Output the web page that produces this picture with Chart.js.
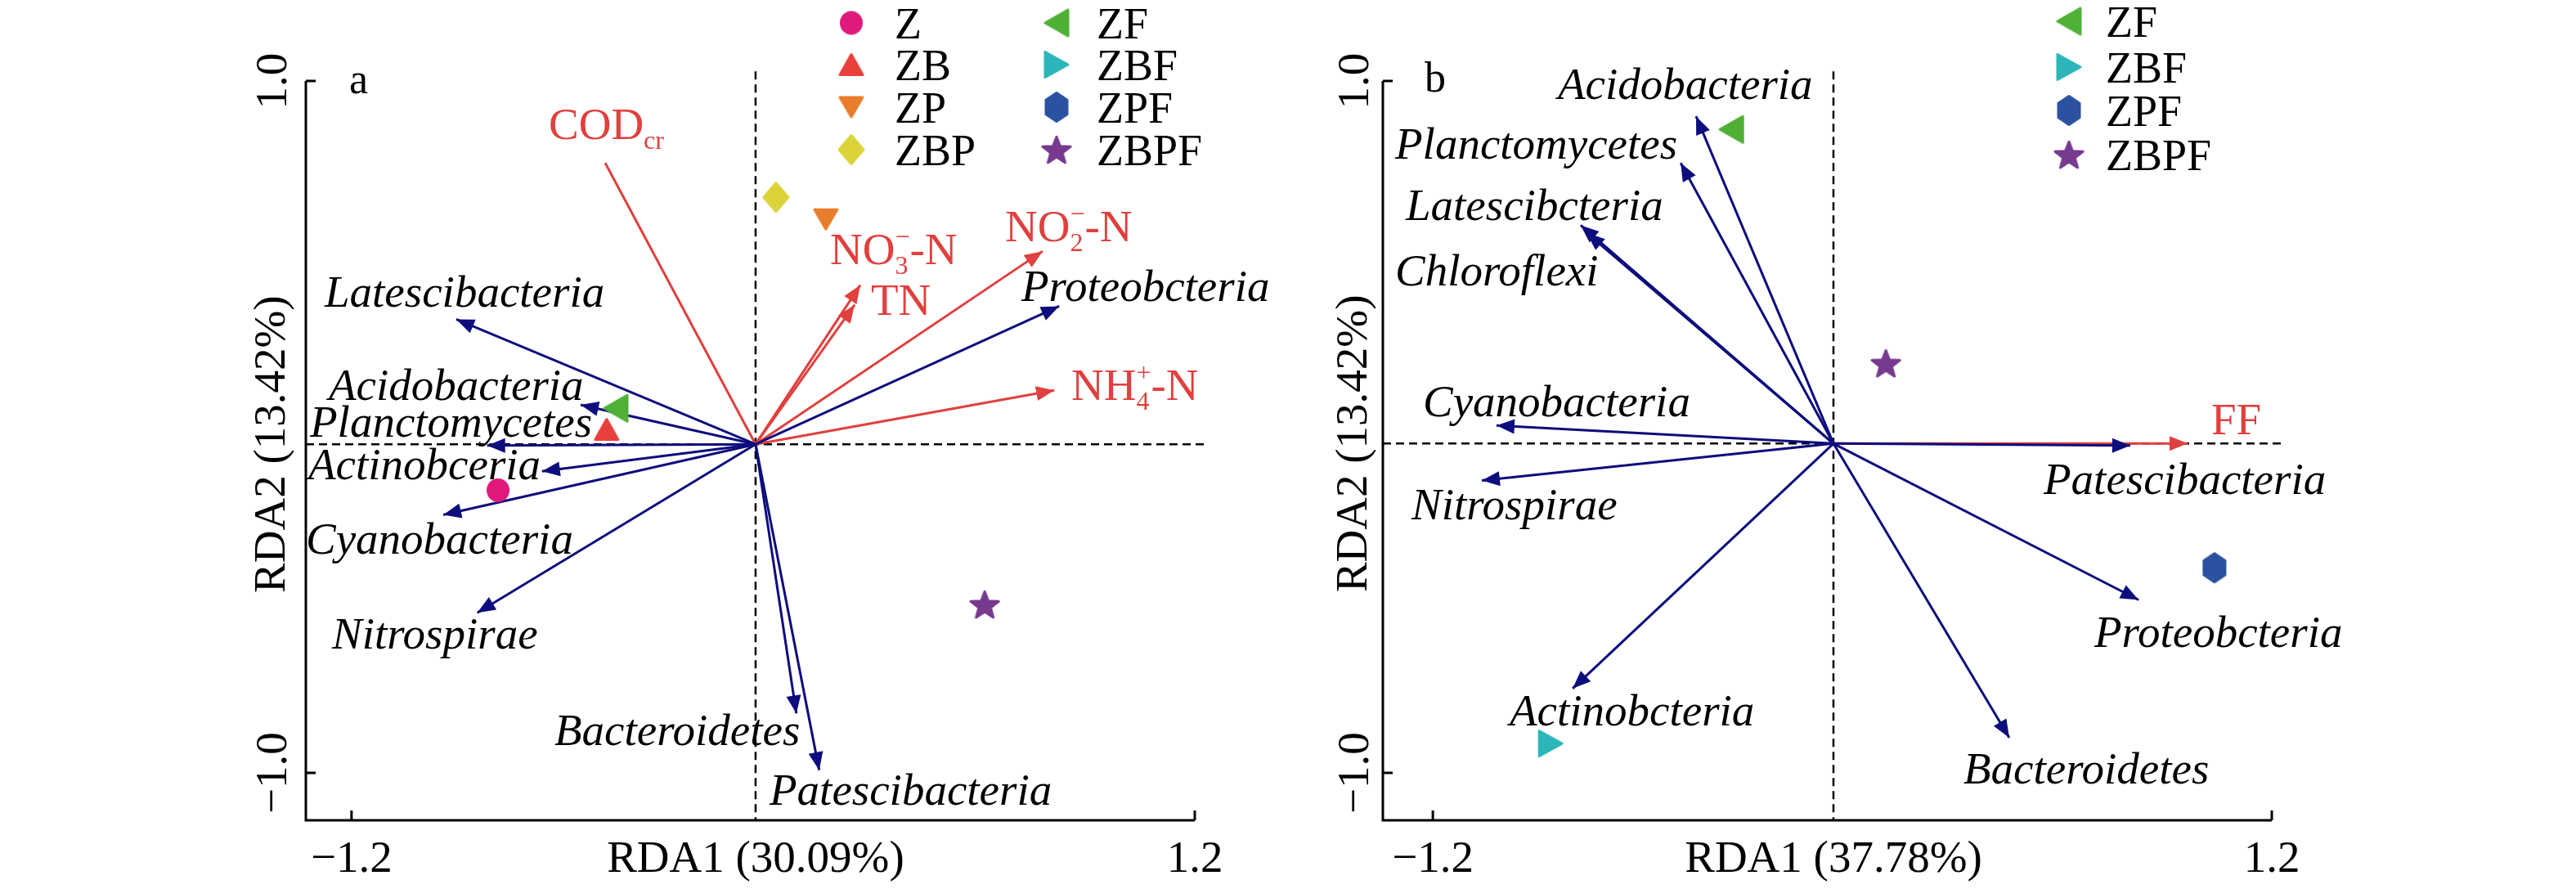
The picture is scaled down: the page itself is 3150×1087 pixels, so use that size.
<!DOCTYPE html>
<html>
<head>
<meta charset="utf-8">
<script src="https://cdn.jsdelivr.net/npm/chart.js@4.4.0/dist/chart.umd.min.js"></script>
<style>
  body { margin: 0; background: #fff; }
  .wrap { position: relative; width: 3150px; height: 1087px; }
  .wrap canvas { position: absolute; top: 0; }
</style>
</head>
<body>
<div class="wrap">
  <canvas id="chartA" width="1575" height="1087" style="left:0"></canvas>
  <canvas id="chartB" width="1575" height="1087" style="left:1575px"></canvas>
</div>
<script>
// ---- panel a data ----
var speciesA  = ["Latescibacteria", "Acidobacteria", "Planctomycetes", "Actinobceria", "Cyanobacteria",
                 "Nitrospirae", "Bacteroidetes", "Patescibacteria", "Proteobcteria"];
var speciesAx = [-0.902, -0.548, -0.814, -0.658, -0.939, -0.842, 0.066, 0.131, 0.814];
var speciesAy = [ 0.311,  0.064, -0.054, -0.128, -0.254, -0.537, -0.828, -0.992, 0.349];
var envA      = ["COD{cr|}", "NO{3|\u2212}-N", "TN", "NO{2|\u2212}-N", "NH{4|+}-N"];
var envAx     = [-0.478, 0.248, 0.232, 0.767, 0.800];
var envAy     = [ 0.763, 0.410, 0.353, 0.508, 0.106];
var samplesA  = ["Z", "ZB", "ZP", "ZBP", "ZF", "ZBF", "ZPF", "ZBPF"];
var samplesAx = [-0.783, -0.474, 0.150, 0.008, -0.448, null, null, 0.602];
var samplesAy = [-0.183, -0.007, 0.600, 0.664,  0.054, null, null, -0.513];
var originA   = [-0.050, -0.050];

// ---- panel b data ----
var speciesB  = ["Acidobacteria", "Planctomycetes", "Latescibcteria", "Chloroflexi", "Cyanobacteria",
                 "Nitrospirae", "Actinobcteria", "Bacteroidetes", "Proteobcteria", "Patescibacteria"];
var speciesBx = [-0.447, -0.491, -0.777, -0.760, -1.018, -1.060, -0.800, 0.449, 0.819, 0.795];
var speciesBy = [ 0.898,  0.763,  0.583,  0.561,  0.004, -0.155, -0.756, -0.898, -0.500, -0.054];
var envB      = ["FF"];
var envBx     = [0.959];
var envBy     = [-0.048];
var samplesB  = ["ZF", "ZBF", "ZPF", "ZBPF"];
var samplesBx = [-0.346, -0.863, 1.036, 0.096];
var samplesBy = [ 0.860, -0.915, -0.407, 0.184];
var originB   = [-0.054, -0.048];

var xTicks = [-1.2, 1.2];
var yTicks = [1.0, -1.0];

// ---- styles / layout ----
var FONT = '"Liberation Serif", "Times New Roman", serif';
var NAVY = '#0d0d7d', RED = '#e0403e';

var markerStyle = {
  Z:    { shape: 'circle',   color: '#e0197b', w: 28, h: 29 },
  ZB:   { shape: 'triUp',    color: '#e8413c', w: 31, h: 28 },
  ZP:   { shape: 'triDown',  color: '#e87d2c', w: 31, h: 27 },
  ZBP:  { shape: 'diamond',  color: '#dcd33a', w: 33, h: 38 },
  ZF:   { shape: 'triLeft',  color: '#4fb036', w: 31, h: 35 },
  ZBF:  { shape: 'triRight', color: '#2db6ba', w: 31, h: 34 },
  ZPF:  { shape: 'hexagon',  color: '#2a52a0', w: 29, h: 38 },
  ZBPF: { shape: 'star',     color: '#773a8f', w: 39, h: 38 }
};

function makeMarker(m) {
  var c = document.createElement('canvas');
  c.width = m.w + 6; c.height = m.h + 6;
  var g = c.getContext('2d');
  g.translate(c.width / 2, c.height / 2);
  g.fillStyle = m.color; g.strokeStyle = m.color;
  if (m.shape === 'circle') {
    g.beginPath(); g.ellipse(0, 0, m.w / 2, m.h / 2, 0, 0, Math.PI * 2); g.fill();
    return c;
  }
  var a = m.w / 2 - 1.5, b = m.h / 2 - 1.5, pts = [];
  switch (m.shape) {
    case 'triUp':    pts = [[0, -b], [a, b], [-a, b]]; break;
    case 'triDown':  pts = [[-a, -b], [a, -b], [0, b]]; break;
    case 'triLeft':  pts = [[-a, 0], [a, -b], [a, b]]; break;
    case 'triRight': pts = [[a, 0], [-a, -b], [-a, b]]; break;
    case 'diamond':  pts = [[0, -b], [a, 0], [0, b], [-a, 0]]; break;
    case 'hexagon':  pts = [[0, -b], [a, -b / 2], [a, b / 2], [0, b], [-a, b / 2], [-a, -b / 2]]; break;
    case 'star':
      for (var k = 0; k < 10; k++) {
        var r = k % 2 ? 0.42 : 1, ang = -Math.PI / 2 + k * Math.PI / 5;
        pts.push([Math.cos(ang) * a * r, Math.sin(ang) * b * r + b * 0.1]);
      }
      break;
  }
  g.beginPath();
  pts.forEach(function (p, i) { if (i) g.lineTo(p[0], p[1]); else g.moveTo(p[0], p[1]); });
  g.closePath();
  g.lineWidth = 3; g.lineJoin = 'round';
  g.fill(); g.stroke();
  return c;
}
var markers = {};
Object.keys(markerStyle).forEach(function (k) { markers[k] = makeMarker(markerStyle[k]); });

// text with "{sub|sup}" groups
function drawRich(ctx, str, x, y, size, style) {
  var pieces = str.split(/(\{[^}]*\})/);
  pieces.forEach(function (p) {
    if (!p) return;
    if (p[0] === '{') {
      var sp = p.slice(1, -1).split('|');
      ctx.font = style + Math.round(size * 0.58) + 'px ' + FONT;
      var w = 0;
      if (sp[0]) { ctx.fillText(sp[0], x, y + size * 0.21); w = ctx.measureText(sp[0]).width; }
      if (sp[1]) { ctx.fillText(sp[1], x, y - size * 0.42); w = Math.max(w, ctx.measureText(sp[1]).width); }
      x += w;
    } else {
      ctx.font = style + size + 'px ' + FONT;
      ctx.fillText(p, x, y);
      x += ctx.measureText(p).width;
    }
  });
}

var rdaPlugin = {
  id: 'rda',
  afterDatasetsDraw: function (chart) {
    var o = chart.options.plugins.rda;
    var ctx = chart.ctx, xs = chart.scales.x, ys = chart.scales.y, area = chart.chartArea;
    ctx.save();

    // arrow heads
    chart.data.datasets.forEach(function (d, i) {
      if (!d.arrowHead) return;
      var pts = chart.getDatasetMeta(i).data;
      var x0 = pts[0].x, y0 = pts[0].y, x1 = pts[1].x, y1 = pts[1].y;
      var ang = Math.atan2(y1 - y0, x1 - x0), L = 22, W = 9;
      ctx.fillStyle = d.borderColor;
      ctx.beginPath();
      ctx.moveTo(x1, y1);
      ctx.lineTo(x1 - L * Math.cos(ang) + W * Math.sin(ang), y1 - L * Math.sin(ang) - W * Math.cos(ang));
      ctx.lineTo(x1 - L * Math.cos(ang) - W * Math.sin(ang), y1 - L * Math.sin(ang) + W * Math.cos(ang));
      ctx.closePath();
      ctx.fill();
    });

    // axes
    ctx.strokeStyle = '#000'; ctx.lineWidth = 3;
    ctx.beginPath();
    ctx.moveTo(area.left, area.top); ctx.lineTo(area.left, area.bottom); ctx.lineTo(area.right, area.bottom);
    xTicks.forEach(function (v) { var px = xs.getPixelForValue(v); ctx.moveTo(px, area.bottom); ctx.lineTo(px, area.bottom - 12); });
    yTicks.forEach(function (v) { var py = ys.getPixelForValue(v); ctx.moveTo(area.left, py); ctx.lineTo(area.left + 12, py); });
    ctx.stroke();

    ctx.fillStyle = '#000';
    ctx.font = '55px ' + FONT;
    ctx.textAlign = 'center'; ctx.textBaseline = 'alphabetic';
    xTicks.forEach(function (v) {
      ctx.fillText((v < 0 ? '\u2212' : '') + Math.abs(v).toFixed(1), xs.getPixelForValue(v), o.xLabelY);
    });
    ctx.fillText(o.xTitle, xs.getPixelForValue(o.origin[0]), o.xLabelY);
    yTicks.forEach(function (v) {
      ctx.save(); ctx.translate(o.yLabelX, ys.getPixelForValue(v)); ctx.rotate(-Math.PI / 2);
      ctx.fillText((v < 0 ? '\u2212' : '') + Math.abs(v).toFixed(1), 0, 0); ctx.restore();
    });
    ctx.save(); ctx.translate(o.yLabelX - 2, ys.getPixelForValue(o.origin[1])); ctx.rotate(-Math.PI / 2);
    ctx.fillText(o.yTitle, 0, 0); ctx.restore();

    // panel letter
    ctx.textAlign = 'left';
    ctx.font = '52px ' + FONT;
    ctx.fillText(o.letter[0], o.letter[1], o.letter[2]);

    // legend
    ctx.font = '54px ' + FONT;
    o.legend.forEach(function (it) {
      var m = markers[it[0]];
      ctx.drawImage(m, it[1] - m.width / 2, it[3] - 19 - m.height / 2);
      ctx.fillText(it[0], it[2], it[3]);
    });

    // labels
    o.labels.forEach(function (lb) {
      ctx.fillStyle = lb[3];
      drawRich(ctx, lb[0], lb[1], lb[2], 55, lb[4] ? 'italic ' : '');
    });
    ctx.restore();
  }
};

function buildPanel(id, p) {
  var ds = [];
  var lineBase = { showLine: true, pointRadius: 0, pointHoverRadius: 0, borderWidth: 3 };
  ds.push(Object.assign({}, lineBase, {
    data: [{ x: p.origin[0], y: p.dashTop }, { x: p.origin[0], y: p.ymin }],
    borderColor: '#000', borderWidth: 2.5, borderDash: [10, 6], clip: false, order: 3 }));
  ds.push(Object.assign({}, lineBase, {
    data: [{ x: p.xmin, y: p.origin[1] }, { x: p.dashRight, y: p.origin[1] }],
    borderColor: '#000', borderWidth: 2.5, borderDash: [10, 6], clip: false, order: 3 }));
  p.env.forEach(function (n, i) {
    ds.push(Object.assign({}, lineBase, {
      data: [{ x: p.origin[0], y: p.origin[1] }, { x: p.envX[i], y: p.envY[i] }],
      borderColor: RED, arrowHead: p.envHead[i], order: 2 }));
  });
  p.spec.forEach(function (n, i) {
    ds.push(Object.assign({}, lineBase, {
      data: [{ x: p.origin[0], y: p.origin[1] }, { x: p.specX[i], y: p.specY[i] }],
      borderColor: NAVY, arrowHead: true, order: 1 }));
  });
  p.samples.forEach(function (n, i) {
    if (p.sampleX[i] === null) return;
    ds.push({ label: n, data: [{ x: p.sampleX[i], y: p.sampleY[i] }],
      pointStyle: markers[n], pointRadius: 12, pointHoverRadius: 12, order: 0 });
  });
  return new Chart(document.getElementById(id), {
    type: 'scatter',
    data: { datasets: ds },
    options: {
      responsive: false, animation: false, devicePixelRatio: 1, events: [],
      layout: { padding: p.padding },
      plugins: { legend: { display: false }, tooltip: { enabled: false }, rda: p.deco },
      scales: {
        x: { type: 'linear', min: p.xmin, max: 1.2, display: false },
        y: { type: 'linear', min: p.ymin, max: 1.0, display: false }
      }
    },
    plugins: [rdaPlugin]
  });
}

// label anchors (canvas pixels, left / baseline)
var labelPosA = [[397, 375], [402, 489], [379, 534], [377, 586], [374, 677], [406, 793], [678, 911], [941, 984], [1249, 368]];
var envPosA   = [[671, 170], [1015, 323], [1065, 385], [1229, 295], [1310, 489]];
var labelPosB = [[330, 121], [131, 194], [144, 269], [131, 349], [165, 509], [151, 635], [271, 887], [826, 958], [986, 791], [924, 604]];
var envPosB   = [[1129, 531]];

function labelList(names, pos, color, italic) {
  return names.map(function (n, i) { return [n, pos[i][0], pos[i][1], color, italic]; });
}

buildPanel('chartA', {
  spec: speciesA, specX: speciesAx, specY: speciesAy,
  env: envA, envX: envAx, envY: envAy, envHead: [false, true, true, true, true],
  samples: samplesA, sampleX: samplesAx, sampleY: samplesAy,
  origin: originA, xmin: -1.33, ymin: -1.137, dashTop: 1.028, dashRight: 1.235,
  padding: { left: 374, right: 114, top: 99, bottom: 84 },
  deco: {
    origin: originA, xTitle: 'RDA1 (30.09%)', yTitle: 'RDA2 (13.42%)',
    xLabelY: 1066, yLabelX: 350, letter: ['a', 427, 114],
    legend: [['Z', 1041, 1094, 47], ['ZB', 1041, 1094, 98], ['ZP', 1041, 1094, 150], ['ZBP', 1041, 1094, 202],
             ['ZF', 1292, 1341, 47], ['ZBF', 1292, 1341, 98], ['ZPF', 1292, 1341, 150], ['ZBPF', 1292, 1341, 202]],
    labels: labelList(speciesA, labelPosA, '#000', true).concat(labelList(envA, envPosA, RED, false))
  }
});

buildPanel('chartB', {
  spec: speciesB, specX: speciesBx, specY: speciesBy,
  env: envB, envX: envBx, envY: envBy, envHead: [true],
  samples: samplesB, sampleX: samplesBx, sampleY: samplesBy,
  origin: originB, xmin: -1.343, ymin: -1.137, dashTop: 1.028, dashRight: 1.237,
  padding: { left: 116, right: 372, top: 99, bottom: 84 },
  deco: {
    origin: originB, xTitle: 'RDA1 (37.78%)', yTitle: 'RDA2 (13.42%)',
    xLabelY: 1066, yLabelX: 98, letter: ['b', 167, 112],
    legend: [['ZF', 955, 1000, 45], ['ZBF', 955, 1000, 101], ['ZPF', 955, 1000, 154], ['ZBPF', 955, 1000, 208]],
    labels: labelList(speciesB, labelPosB, '#000', true).concat(labelList(envB, envPosB, RED, false))
  }
});
</script>
</body>
</html>
